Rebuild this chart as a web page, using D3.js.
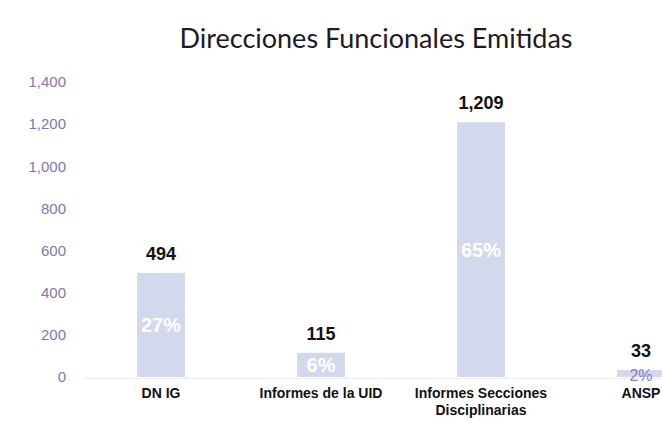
<!DOCTYPE html>
<html>
<head>
<meta charset="utf-8">
<script src="https://cdn.jsdelivr.net/npm/d3@7"></script>
<style>
  body { margin: 0; background: #fff; }
  svg { display: block; }
</style>
</head>
<body>
<svg id="graph"></svg>
<script>
// data
const categories = ["DN IG", "Informes de la UID", "Informes Secciones Disciplinarias", "ANSP"];
const values = [494, 115, 1209, 33];
const shares = ["27%", "6%", "65%", "2%"];
const yTicks = [0, 200, 400, 600, 800, 1000, 1200, 1400];
const title = "Direcciones Funcionales Emitidas";

var svgWidth = 662;
var svgHeight = 429;
var svg = d3.select('#graph')
    .attr("width", svgWidth)
    .attr("height", svgHeight);

var x = d3.scaleBand()
    .domain(categories)
    .range([81, 721])
    .paddingInner(0.7)
    .paddingOuter(0.35);

var y = d3.scaleLinear()
    .domain([0, 1400])
    .range([377, 82]);

// faint baseline
svg.append("line")
    .attr("x1", 85).attr("x2", svgWidth)
    .attr("y1", y(0) + 1.5).attr("y2", y(0) + 1.5)
    .attr("stroke", "#ebebf0");

// y axis, labels only
var yAxis = svg.append("g")
    .attr("transform", "translate(66,0)")
    .call(d3.axisLeft(y).tickValues(yTicks).tickFormat(d3.format(",")).tickSize(0).tickPadding(0));
yAxis.select(".domain").remove();
yAxis.selectAll("text")
    .attr("font-family", "Liberation Sans, Arial, sans-serif")
    .attr("font-size", 15)
    .attr("fill", "#8376b0");

svg.append("text")
    .attr("x", 376)
    .attr("y", 48)
    .attr("text-anchor", "middle")
    .attr("font-family", "Lato, sans-serif")
    .attr("font-size", 27)
    .attr("fill", "#1d1a28")
    .text(title);

var bars = svg.selectAll(".bar")
    .data(categories)
    .enter()
    .append("g")
    .attr("class", "bar");

bars.append("rect")
    .attr("x", d => x(d))
    .attr("width", x.bandwidth())
    .attr("y", (d, i) => y(values[i]))
    .attr("height", (d, i) => y(0) - y(values[i]))
    .attr("fill", "#d3d8ec");

bars.append("text")
    .attr("x", d => x(d) + x.bandwidth() / 2)
    .attr("y", (d, i) => y(values[i]) - 13)
    .attr("text-anchor", "middle")
    .attr("font-family", "Liberation Sans, Arial, sans-serif")
    .attr("font-weight", "bold")
    .attr("font-size", 18)
    .attr("fill", "#111")
    .text((d, i) => d3.format(",")(values[i]));

// share labels in the middle of each bar; the tiny bar gets a smaller, coloured label
var small = (d, i) => values[i] < 60;
bars.append("text")
    .attr("x", d => x(d) + x.bandwidth() / 2)
    .attr("y", (d, i) => (y(values[i]) + y(0)) / 2 + (small(d, i) ? 7.5 : 7))
    .attr("text-anchor", "middle")
    .attr("font-family", "Liberation Sans, Arial, sans-serif")
    .attr("font-weight", (d, i) => small(d, i) ? "normal" : "bold")
    .attr("font-size", (d, i) => small(d, i) ? 16 : 20)
    .attr("fill", (d, i) => small(d, i) ? "#8a7ec4" : "#ffffff")
    .text((d, i) => shares[i]);

// category labels, wrapped
var labels = bars.append("text")
    .attr("text-anchor", "middle")
    .attr("font-family", "Liberation Sans, Arial, sans-serif")
    .attr("font-weight", "bold")
    .attr("font-size", 14)
    .attr("fill", "#111");

labels.each(function (d) {
    var t = d3.select(this);
    var cx = x(d) + x.bandwidth() / 2;
    var words = d.split(" ");
    var line = [];
    var lineNo = 0;
    var tspan = t.append("tspan").attr("x", cx).attr("y", 398);
    words.forEach(function (w) {
        line.push(w);
        tspan.text(line.join(" "));
        if (tspan.node().getComputedTextLength() > 150 && line.length > 1) {
            line.pop();
            tspan.text(line.join(" "));
            line = [w];
            lineNo++;
            tspan = t.append("tspan").attr("x", cx).attr("y", 398 + lineNo * 17).text(w);
        }
    });
});
</script>
</body>
</html>
